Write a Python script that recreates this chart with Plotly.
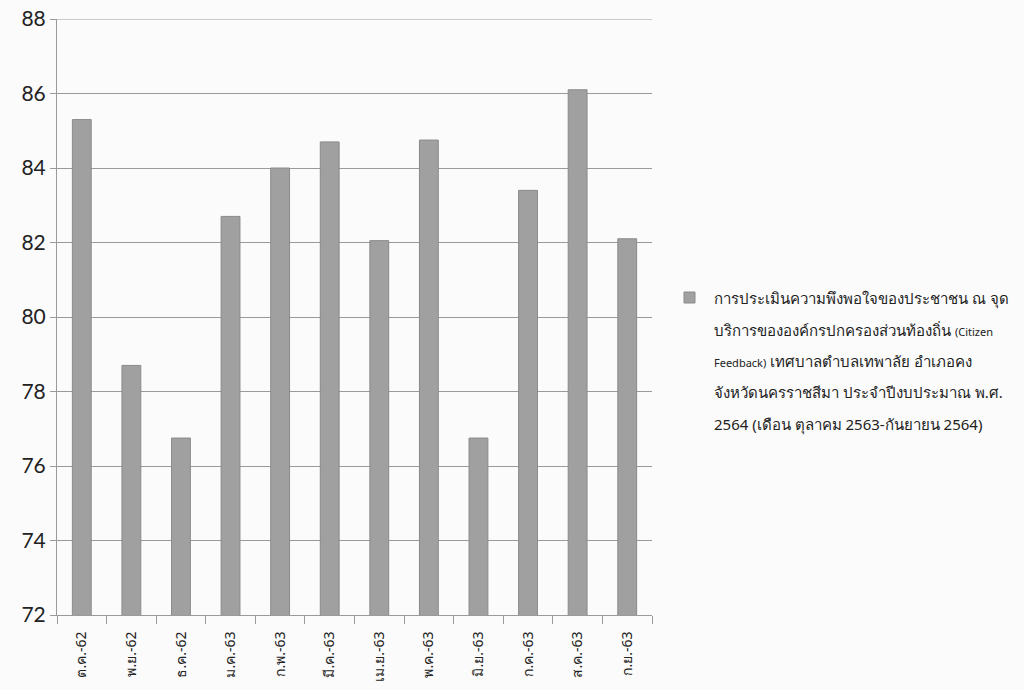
import plotly.graph_objects as go

months = ["ต.ค.-62", "พ.ย.-62", "ธ.ค.-62", "ม.ค.-63", "ก.พ.-63", "มี.ค.-63",
          "เม.ย.-63", "พ.ค.-63", "มิ.ย.-63", "ก.ค.-63", "ส.ค.-63", "ก.ย.-63"]
scores = [85.3, 78.7, 76.75, 82.7, 84.0, 84.7, 82.05, 84.75, 76.75, 83.4, 86.1, 82.1]
y_ticks = [72, 74, 76, 78, 80, 82, 84, 86, 88]
legend_lines = [
    "การประเมินความพึงพอใจของประชาชน ณ จุด",
    "บริการขององค์กรปกครองส่วนท้องถิ่น <span style='font-size:11px'>(Citizen</span>",
    "<span style='font-size:11px'>Feedback)</span> เทศบาลตำบลเทพาลัย อำเภอคง",
    "จังหวัดนครราชสีมา ประจำปีงบประมาณ พ.ศ.",
    "2564 (เดือน ตุลาคม 2563-กันยายน 2564)",
]

W, H = 1024, 690
L, R, T, B = 57, 372, 19, 75

fig = go.Figure()
fig.add_trace(go.Bar(
    x=months, y=scores,
    marker=dict(color="#a0a0a0", line=dict(color="#8a8a8a", width=1)),
    showlegend=False,
))

fig.update_layout(
    width=W, height=H,
    margin=dict(l=L, r=R, t=T, b=B),
    paper_bgcolor="#fbfbfb",
    plot_bgcolor="#fbfbfb",
    bargap=0.62,
    font=dict(family="Lato, 'Noto Sans', sans-serif", color="#222222"),
    xaxis=dict(
        type="category",
        automargin=False,
        tickangle=-90,
        tickfont=dict(size=14, color="#222222", family="'Noto Sans', sans-serif"),
        ticklabelstandoff=10,
        showline=True, linecolor="#9a9a9a", linewidth=1,
        ticks="outside", ticklen=8, tickcolor="#9a9a9a",
        tickson="boundaries",
        showgrid=False,
    ),
    yaxis=dict(
        range=[72, 88],
        automargin=False,
        tickvals=y_ticks,
        tickfont=dict(size=21, color="#222222"),
        showline=True, linecolor="#9a9a9a", linewidth=1,
        ticks="outside", ticklen=6, tickcolor="#9a9a9a",
        showgrid=True, gridcolor="#9a9a9a", gridwidth=1,
        zeroline=False,
    ),
)

# top gridline at the range maximum
fig.add_shape(type="line", xref="paper", yref="y", x0=0, x1=1,
              y0=y_ticks[-1], y1=y_ticks[-1], line=dict(color="#9a9a9a", width=1))

pw = W - L - R
ph = H - T - B
def px_x(x):
    return (x - L) / pw
def px_y(y):
    return 1 - (y - T) / ph

# legend marker
fig.add_shape(type="rect", xref="paper", yref="paper",
              x0=px_x(684), x1=px_x(695), y0=px_y(303), y1=px_y(292),
              fillcolor="#a0a0a0", line=dict(color="#8a8a8a", width=1))

line_y = [298, 330, 361, 392, 424]
for txt, yy in zip(legend_lines, line_y):
    fig.add_annotation(
        xref="paper", yref="paper", x=px_x(712), y=px_y(yy),
        xanchor="left", yanchor="middle", showarrow=False,
        text=txt, font=dict(size=15, color="#222222", family="'Noto Sans', sans-serif"),
    )

fig.write_html("out.html")
